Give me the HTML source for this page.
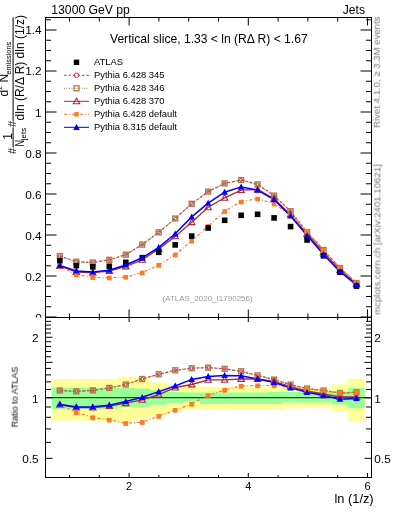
<!DOCTYPE html><html><head><meta charset="utf-8"><style>html,body{margin:0;padding:0;background:#fff;}svg{display:block;font-family:"Liberation Sans",sans-serif;} text{will-change:transform}</style></head><body>
<svg width="393" height="512" viewBox="0 0 393 512">
<rect width="393" height="512" fill="#fff"/>
<path d="M51.60,379.00 L68.08,379.00 L68.08,379.00 L84.56,379.00 L84.56,379.00 L101.04,379.00 L101.04,379.00 L117.52,379.00 L117.52,376.80 L134.00,376.80 L134.00,378.00 L150.48,378.00 L150.48,382.50 L166.96,382.50 L166.96,384.90 L183.44,384.90 L183.44,386.00 L199.92,386.00 L199.92,386.70 L216.40,386.70 L216.40,386.70 L232.88,386.70 L232.88,386.70 L249.36,386.70 L249.36,386.70 L265.84,386.70 L265.84,386.40 L282.32,386.40 L282.32,387.50 L298.80,387.50 L298.80,388.00 L315.28,388.00 L315.28,388.50 L331.76,388.50 L331.76,384.50 L348.24,384.50 L348.24,378.80 L364.72,378.80 L364.72,421.30 L348.24,421.30 L348.24,411.40 L331.76,411.40 L331.76,407.00 L315.28,407.00 L315.28,407.00 L298.80,407.00 L298.80,408.40 L282.32,408.40 L282.32,409.90 L265.84,409.90 L265.84,410.00 L249.36,410.00 L249.36,409.90 L232.88,409.90 L232.88,409.80 L216.40,409.80 L216.40,409.60 L199.92,409.60 L199.92,409.50 L183.44,409.50 L183.44,411.80 L166.96,411.80 L166.96,415.30 L150.48,415.30 L150.48,418.80 L134.00,418.80 L134.00,422.40 L117.52,422.40 L117.52,421.20 L101.04,421.20 L101.04,420.80 L84.56,420.80 L84.56,420.60 L68.08,420.60 L68.08,420.60 L51.60,420.60 Z" fill="#ffff99"/>
<path d="M51.60,387.80 L68.08,387.80 L68.08,387.80 L84.56,387.80 L84.56,387.80 L101.04,387.80 L101.04,387.80 L117.52,387.80 L117.52,388.00 L134.00,388.00 L134.00,388.40 L150.48,388.40 L150.48,390.30 L166.96,390.30 L166.96,392.00 L183.44,392.00 L183.44,392.60 L199.92,392.60 L199.92,392.40 L216.40,392.40 L216.40,392.40 L232.88,392.40 L232.88,392.40 L249.36,392.40 L249.36,392.40 L265.84,392.40 L265.84,392.00 L282.32,392.00 L282.32,392.00 L298.80,392.00 L298.80,392.00 L315.28,392.00 L315.28,392.00 L331.76,392.00 L331.76,391.50 L348.24,391.50 L348.24,387.90 L364.72,387.90 L364.72,408.30 L348.24,408.30 L348.24,404.50 L331.76,404.50 L331.76,402.40 L315.28,402.40 L315.28,402.40 L298.80,402.40 L298.80,402.40 L282.32,402.40 L282.32,403.90 L265.84,403.90 L265.84,403.70 L249.36,403.70 L249.36,403.70 L232.88,403.70 L232.88,403.70 L216.40,403.70 L216.40,403.70 L199.92,403.70 L199.92,401.30 L183.44,401.30 L183.44,402.90 L166.96,402.90 L166.96,404.80 L150.48,404.80 L150.48,406.70 L134.00,406.70 L134.00,407.00 L117.52,407.00 L117.52,408.80 L101.04,408.80 L101.04,408.90 L84.56,408.90 L84.56,408.90 L68.08,408.90 L68.08,408.90 L51.60,408.90 Z" fill="#99ff99"/>
<line x1="45.5" y1="397.6" x2="371.5" y2="397.6" stroke="#000" stroke-opacity="0.72" stroke-width="1.4"/>
<polyline points="59.84,256.10 76.32,261.70 92.80,262.50 109.28,259.80 125.76,254.70 142.24,244.60 158.72,232.30 175.20,218.50 191.68,203.80 208.16,191.60 224.64,183.40 241.12,180.00 257.60,184.40 274.08,195.60 290.56,211.20 307.04,232.20 323.52,250.00 340.00,268.20 356.48,283.00" fill="none" stroke="#c8365a" stroke-width="1.2" stroke-dasharray="2.5,2"/>
<polyline points="59.84,256.10 76.32,261.70 92.80,262.50 109.28,259.80 125.76,254.70 142.24,244.60 158.72,232.30 175.20,218.50 191.68,203.80 208.16,191.60 224.64,183.40 241.12,180.00 257.60,184.40 274.08,195.60 290.56,211.20 307.04,232.20 323.52,250.00 340.00,268.20 356.48,283.00" fill="none" stroke="#a87a40" stroke-width="1.2" stroke-dasharray="1,1.5"/>
<polyline points="59.84,266.00 76.32,272.00 92.80,272.70 109.28,271.00 125.76,266.50 142.24,259.80 158.72,248.90 175.20,236.40 191.68,222.20 208.16,207.30 224.64,197.80 241.12,190.10 257.60,189.50 274.08,198.70 290.56,214.60 307.04,234.00 323.52,252.50 340.00,270.00 356.48,284.00" fill="none" stroke="#a8283a" stroke-width="1.3"/>
<polyline points="59.84,266.00 76.32,274.60 92.80,277.30 109.28,277.70 125.76,277.00 142.24,272.70 158.72,265.00 175.20,254.70 191.68,240.90 208.16,226.20 224.64,211.20 241.12,201.70 257.60,198.70 274.08,203.80 290.56,215.20 307.04,231.80 323.52,250.20 340.00,268.00 356.48,282.60" fill="none" stroke="#ff7a28" stroke-width="1.2" stroke-dasharray="3,2,1,2"/>
<polyline points="59.84,265.40 76.32,271.00 92.80,272.00 109.28,270.20 125.76,265.00 142.24,257.80 158.72,247.40 175.20,233.80 191.68,216.90 208.16,203.20 224.64,192.20 241.12,186.90 257.60,190.10 274.08,199.70 290.56,216.00 307.04,235.60 323.52,254.40 340.00,271.70 356.48,285.00" fill="none" stroke="#0000ff" stroke-width="1.5"/>
<rect x="57.34" y="253.60" width="5.0" height="5.0" fill="none" stroke="#a87a40" stroke-width="1.3"/>
<circle cx="59.84" cy="256.10" r="1.5" fill="none" stroke="#c8365a" stroke-width="1.0"/>
<rect x="73.82" y="259.20" width="5.0" height="5.0" fill="none" stroke="#a87a40" stroke-width="1.3"/>
<circle cx="76.32" cy="261.70" r="1.5" fill="none" stroke="#c8365a" stroke-width="1.0"/>
<rect x="90.30" y="260.00" width="5.0" height="5.0" fill="none" stroke="#a87a40" stroke-width="1.3"/>
<circle cx="92.80" cy="262.50" r="1.5" fill="none" stroke="#c8365a" stroke-width="1.0"/>
<rect x="106.78" y="257.30" width="5.0" height="5.0" fill="none" stroke="#a87a40" stroke-width="1.3"/>
<circle cx="109.28" cy="259.80" r="1.5" fill="none" stroke="#c8365a" stroke-width="1.0"/>
<rect x="123.26" y="252.20" width="5.0" height="5.0" fill="none" stroke="#a87a40" stroke-width="1.3"/>
<circle cx="125.76" cy="254.70" r="1.5" fill="none" stroke="#c8365a" stroke-width="1.0"/>
<rect x="139.74" y="242.10" width="5.0" height="5.0" fill="none" stroke="#a87a40" stroke-width="1.3"/>
<circle cx="142.24" cy="244.60" r="1.5" fill="none" stroke="#c8365a" stroke-width="1.0"/>
<rect x="156.22" y="229.80" width="5.0" height="5.0" fill="none" stroke="#a87a40" stroke-width="1.3"/>
<circle cx="158.72" cy="232.30" r="1.5" fill="none" stroke="#c8365a" stroke-width="1.0"/>
<rect x="172.70" y="216.00" width="5.0" height="5.0" fill="none" stroke="#a87a40" stroke-width="1.3"/>
<circle cx="175.20" cy="218.50" r="1.5" fill="none" stroke="#c8365a" stroke-width="1.0"/>
<rect x="189.18" y="201.30" width="5.0" height="5.0" fill="none" stroke="#a87a40" stroke-width="1.3"/>
<circle cx="191.68" cy="203.80" r="1.5" fill="none" stroke="#c8365a" stroke-width="1.0"/>
<rect x="205.66" y="189.10" width="5.0" height="5.0" fill="none" stroke="#a87a40" stroke-width="1.3"/>
<circle cx="208.16" cy="191.60" r="1.5" fill="none" stroke="#c8365a" stroke-width="1.0"/>
<rect x="222.14" y="180.90" width="5.0" height="5.0" fill="none" stroke="#a87a40" stroke-width="1.3"/>
<circle cx="224.64" cy="183.40" r="1.5" fill="none" stroke="#c8365a" stroke-width="1.0"/>
<rect x="238.62" y="177.50" width="5.0" height="5.0" fill="none" stroke="#a87a40" stroke-width="1.3"/>
<circle cx="241.12" cy="180.00" r="1.5" fill="none" stroke="#c8365a" stroke-width="1.0"/>
<rect x="255.10" y="181.90" width="5.0" height="5.0" fill="none" stroke="#a87a40" stroke-width="1.3"/>
<circle cx="257.60" cy="184.40" r="1.5" fill="none" stroke="#c8365a" stroke-width="1.0"/>
<rect x="271.58" y="193.10" width="5.0" height="5.0" fill="none" stroke="#a87a40" stroke-width="1.3"/>
<circle cx="274.08" cy="195.60" r="1.5" fill="none" stroke="#c8365a" stroke-width="1.0"/>
<rect x="288.06" y="208.70" width="5.0" height="5.0" fill="none" stroke="#a87a40" stroke-width="1.3"/>
<circle cx="290.56" cy="211.20" r="1.5" fill="none" stroke="#c8365a" stroke-width="1.0"/>
<rect x="304.54" y="229.70" width="5.0" height="5.0" fill="none" stroke="#a87a40" stroke-width="1.3"/>
<circle cx="307.04" cy="232.20" r="1.5" fill="none" stroke="#c8365a" stroke-width="1.0"/>
<rect x="321.02" y="247.50" width="5.0" height="5.0" fill="none" stroke="#a87a40" stroke-width="1.3"/>
<circle cx="323.52" cy="250.00" r="1.5" fill="none" stroke="#c8365a" stroke-width="1.0"/>
<rect x="337.50" y="265.70" width="5.0" height="5.0" fill="none" stroke="#a87a40" stroke-width="1.3"/>
<circle cx="340.00" cy="268.20" r="1.5" fill="none" stroke="#c8365a" stroke-width="1.0"/>
<rect x="353.98" y="280.50" width="5.0" height="5.0" fill="none" stroke="#a87a40" stroke-width="1.3"/>
<circle cx="356.48" cy="283.00" r="1.5" fill="none" stroke="#c8365a" stroke-width="1.0"/>
<path d="M59.84,262.80 L63.04,268.40 L56.64,268.40 Z" fill="none" stroke="#a8283a" stroke-width="1.1"/>
<path d="M76.32,268.80 L79.52,274.40 L73.12,274.40 Z" fill="none" stroke="#a8283a" stroke-width="1.1"/>
<path d="M92.80,269.50 L96.00,275.10 L89.60,275.10 Z" fill="none" stroke="#a8283a" stroke-width="1.1"/>
<path d="M109.28,267.80 L112.48,273.40 L106.08,273.40 Z" fill="none" stroke="#a8283a" stroke-width="1.1"/>
<path d="M125.76,263.30 L128.96,268.90 L122.56,268.90 Z" fill="none" stroke="#a8283a" stroke-width="1.1"/>
<path d="M142.24,256.60 L145.44,262.20 L139.04,262.20 Z" fill="none" stroke="#a8283a" stroke-width="1.1"/>
<path d="M158.72,245.70 L161.92,251.30 L155.52,251.30 Z" fill="none" stroke="#a8283a" stroke-width="1.1"/>
<path d="M175.20,233.20 L178.40,238.80 L172.00,238.80 Z" fill="none" stroke="#a8283a" stroke-width="1.1"/>
<path d="M191.68,219.00 L194.88,224.60 L188.48,224.60 Z" fill="none" stroke="#a8283a" stroke-width="1.1"/>
<path d="M208.16,204.10 L211.36,209.70 L204.96,209.70 Z" fill="none" stroke="#a8283a" stroke-width="1.1"/>
<path d="M224.64,194.60 L227.84,200.20 L221.44,200.20 Z" fill="none" stroke="#a8283a" stroke-width="1.1"/>
<path d="M241.12,186.90 L244.32,192.50 L237.92,192.50 Z" fill="none" stroke="#a8283a" stroke-width="1.1"/>
<path d="M257.60,186.30 L260.80,191.90 L254.40,191.90 Z" fill="none" stroke="#a8283a" stroke-width="1.1"/>
<path d="M274.08,195.50 L277.28,201.10 L270.88,201.10 Z" fill="none" stroke="#a8283a" stroke-width="1.1"/>
<path d="M290.56,211.40 L293.76,217.00 L287.36,217.00 Z" fill="none" stroke="#a8283a" stroke-width="1.1"/>
<path d="M307.04,230.80 L310.24,236.40 L303.84,236.40 Z" fill="none" stroke="#a8283a" stroke-width="1.1"/>
<path d="M323.52,249.30 L326.72,254.90 L320.32,254.90 Z" fill="none" stroke="#a8283a" stroke-width="1.1"/>
<path d="M340.00,266.80 L343.20,272.40 L336.80,272.40 Z" fill="none" stroke="#a8283a" stroke-width="1.1"/>
<path d="M356.48,280.80 L359.68,286.40 L353.28,286.40 Z" fill="none" stroke="#a8283a" stroke-width="1.1"/>
<rect x="57.49" y="263.95" width="4.7" height="4.7" fill="#ff7a28"/>
<rect x="73.97" y="272.55" width="4.7" height="4.7" fill="#ff7a28"/>
<rect x="90.45" y="275.25" width="4.7" height="4.7" fill="#ff7a28"/>
<rect x="106.93" y="275.65" width="4.7" height="4.7" fill="#ff7a28"/>
<rect x="123.41" y="274.95" width="4.7" height="4.7" fill="#ff7a28"/>
<rect x="139.89" y="270.65" width="4.7" height="4.7" fill="#ff7a28"/>
<rect x="156.37" y="262.95" width="4.7" height="4.7" fill="#ff7a28"/>
<rect x="172.85" y="252.65" width="4.7" height="4.7" fill="#ff7a28"/>
<rect x="189.33" y="238.85" width="4.7" height="4.7" fill="#ff7a28"/>
<rect x="205.81" y="224.15" width="4.7" height="4.7" fill="#ff7a28"/>
<rect x="222.29" y="209.15" width="4.7" height="4.7" fill="#ff7a28"/>
<rect x="238.77" y="199.65" width="4.7" height="4.7" fill="#ff7a28"/>
<rect x="255.25" y="196.65" width="4.7" height="4.7" fill="#ff7a28"/>
<rect x="271.73" y="201.75" width="4.7" height="4.7" fill="#ff7a28"/>
<rect x="288.21" y="213.15" width="4.7" height="4.7" fill="#ff7a28"/>
<rect x="304.69" y="229.75" width="4.7" height="4.7" fill="#ff7a28"/>
<rect x="321.17" y="248.15" width="4.7" height="4.7" fill="#ff7a28"/>
<rect x="337.65" y="265.95" width="4.7" height="4.7" fill="#ff7a28"/>
<rect x="354.13" y="280.55" width="4.7" height="4.7" fill="#ff7a28"/>
<rect x="57.04" y="257.90" width="5.6" height="5.6" fill="#000"/>
<rect x="73.52" y="262.90" width="5.6" height="5.6" fill="#000"/>
<rect x="90.00" y="264.00" width="5.6" height="5.6" fill="#000"/>
<rect x="106.48" y="263.50" width="5.6" height="5.6" fill="#000"/>
<rect x="122.96" y="259.50" width="5.6" height="5.6" fill="#000"/>
<rect x="139.44" y="254.90" width="5.6" height="5.6" fill="#000"/>
<rect x="155.92" y="249.50" width="5.6" height="5.6" fill="#000"/>
<rect x="172.40" y="242.10" width="5.6" height="5.6" fill="#000"/>
<rect x="188.88" y="233.30" width="5.6" height="5.6" fill="#000"/>
<rect x="205.36" y="225.20" width="5.6" height="5.6" fill="#000"/>
<rect x="221.84" y="217.50" width="5.6" height="5.6" fill="#000"/>
<rect x="238.32" y="212.50" width="5.6" height="5.6" fill="#000"/>
<rect x="254.80" y="211.50" width="5.6" height="5.6" fill="#000"/>
<rect x="271.28" y="215.10" width="5.6" height="5.6" fill="#000"/>
<rect x="287.76" y="223.80" width="5.6" height="5.6" fill="#000"/>
<rect x="304.24" y="237.20" width="5.6" height="5.6" fill="#000"/>
<rect x="320.72" y="253.00" width="5.6" height="5.6" fill="#000"/>
<rect x="337.20" y="269.50" width="5.6" height="5.6" fill="#000"/>
<rect x="353.68" y="283.30" width="5.6" height="5.6" fill="#000"/>
<path d="M59.84,262.00 L63.14,268.00 L56.54,268.00 Z" fill="#0000ff"/>
<path d="M76.32,267.60 L79.62,273.60 L73.02,273.60 Z" fill="#0000ff"/>
<path d="M92.80,268.60 L96.10,274.60 L89.50,274.60 Z" fill="#0000ff"/>
<path d="M109.28,266.80 L112.58,272.80 L105.98,272.80 Z" fill="#0000ff"/>
<path d="M125.76,261.60 L129.06,267.60 L122.46,267.60 Z" fill="#0000ff"/>
<path d="M142.24,254.40 L145.54,260.40 L138.94,260.40 Z" fill="#0000ff"/>
<path d="M158.72,244.00 L162.02,250.00 L155.42,250.00 Z" fill="#0000ff"/>
<path d="M175.20,230.40 L178.50,236.40 L171.90,236.40 Z" fill="#0000ff"/>
<path d="M191.68,213.50 L194.98,219.50 L188.38,219.50 Z" fill="#0000ff"/>
<path d="M208.16,199.80 L211.46,205.80 L204.86,205.80 Z" fill="#0000ff"/>
<path d="M224.64,188.80 L227.94,194.80 L221.34,194.80 Z" fill="#0000ff"/>
<path d="M241.12,183.50 L244.42,189.50 L237.82,189.50 Z" fill="#0000ff"/>
<path d="M257.60,186.70 L260.90,192.70 L254.30,192.70 Z" fill="#0000ff"/>
<path d="M274.08,196.30 L277.38,202.30 L270.78,202.30 Z" fill="#0000ff"/>
<path d="M290.56,212.60 L293.86,218.60 L287.26,218.60 Z" fill="#0000ff"/>
<path d="M307.04,232.20 L310.34,238.20 L303.74,238.20 Z" fill="#0000ff"/>
<path d="M323.52,251.00 L326.82,257.00 L320.22,257.00 Z" fill="#0000ff"/>
<path d="M340.00,268.30 L343.30,274.30 L336.70,274.30 Z" fill="#0000ff"/>
<path d="M356.48,281.60 L359.78,287.60 L353.18,287.60 Z" fill="#0000ff"/>
<polyline points="59.84,390.50 76.32,391.40 92.80,390.40 109.28,387.90 125.76,384.50 142.24,379.00 158.72,374.30 175.20,370.30 191.68,368.20 208.16,367.60 224.64,368.80 241.12,371.30 257.60,375.40 274.08,379.60 290.56,384.60 307.04,388.60 323.52,390.50 340.00,393.00 356.48,392.30" fill="none" stroke="#c8365a" stroke-width="1.2" stroke-dasharray="2.5,2"/>
<polyline points="59.84,390.50 76.32,391.40 92.80,390.40 109.28,387.90 125.76,384.50 142.24,379.00 158.72,374.30 175.20,370.30 191.68,368.20 208.16,367.60 224.64,368.80 241.12,371.30 257.60,375.40 274.08,379.60 290.56,384.60 307.04,388.60 323.52,390.50 340.00,393.00 356.48,392.30" fill="none" stroke="#a87a40" stroke-width="1.2" stroke-dasharray="1,1.5"/>
<polyline points="59.84,404.80 76.32,407.60 92.80,407.60 109.28,406.00 125.76,403.20 142.24,399.80 158.72,394.70 175.20,387.60 191.68,384.50 208.16,379.80 224.64,379.80 241.12,379.00 257.60,379.00 274.08,381.50 290.56,386.50 307.04,391.00 323.52,394.00 340.00,397.00 356.48,397.00" fill="none" stroke="#a8283a" stroke-width="1.3"/>
<polyline points="59.84,405.00 76.32,412.30 92.80,417.50 109.28,419.90 125.76,423.20 142.24,422.20 158.72,416.10 175.20,410.00 191.68,403.90 208.16,395.30 224.64,390.00 241.12,386.00 257.60,385.50 274.08,385.50 290.56,387.40 307.04,389.20 323.52,390.50 340.00,393.00 356.48,392.30" fill="none" stroke="#ff7a28" stroke-width="1.2" stroke-dasharray="3,2,1,2"/>
<polyline points="59.84,404.20 76.32,407.00 92.80,406.80 109.28,405.20 125.76,401.60 142.24,397.30 158.72,391.60 175.20,386.00 191.68,379.40 208.16,376.40 224.64,375.40 241.12,375.80 257.60,379.00 274.08,382.60 290.56,387.90 307.04,392.30 323.52,395.60 340.00,399.20 356.48,398.40" fill="none" stroke="#0000ff" stroke-width="1.5"/>
<rect x="57.34" y="388.00" width="5.0" height="5.0" fill="none" stroke="#a87a40" stroke-width="1.3"/>
<circle cx="59.84" cy="390.50" r="1.5" fill="none" stroke="#c8365a" stroke-width="1.0"/>
<rect x="73.82" y="388.90" width="5.0" height="5.0" fill="none" stroke="#a87a40" stroke-width="1.3"/>
<circle cx="76.32" cy="391.40" r="1.5" fill="none" stroke="#c8365a" stroke-width="1.0"/>
<rect x="90.30" y="387.90" width="5.0" height="5.0" fill="none" stroke="#a87a40" stroke-width="1.3"/>
<circle cx="92.80" cy="390.40" r="1.5" fill="none" stroke="#c8365a" stroke-width="1.0"/>
<rect x="106.78" y="385.40" width="5.0" height="5.0" fill="none" stroke="#a87a40" stroke-width="1.3"/>
<circle cx="109.28" cy="387.90" r="1.5" fill="none" stroke="#c8365a" stroke-width="1.0"/>
<rect x="123.26" y="382.00" width="5.0" height="5.0" fill="none" stroke="#a87a40" stroke-width="1.3"/>
<circle cx="125.76" cy="384.50" r="1.5" fill="none" stroke="#c8365a" stroke-width="1.0"/>
<rect x="139.74" y="376.50" width="5.0" height="5.0" fill="none" stroke="#a87a40" stroke-width="1.3"/>
<circle cx="142.24" cy="379.00" r="1.5" fill="none" stroke="#c8365a" stroke-width="1.0"/>
<rect x="156.22" y="371.80" width="5.0" height="5.0" fill="none" stroke="#a87a40" stroke-width="1.3"/>
<circle cx="158.72" cy="374.30" r="1.5" fill="none" stroke="#c8365a" stroke-width="1.0"/>
<rect x="172.70" y="367.80" width="5.0" height="5.0" fill="none" stroke="#a87a40" stroke-width="1.3"/>
<circle cx="175.20" cy="370.30" r="1.5" fill="none" stroke="#c8365a" stroke-width="1.0"/>
<rect x="189.18" y="365.70" width="5.0" height="5.0" fill="none" stroke="#a87a40" stroke-width="1.3"/>
<circle cx="191.68" cy="368.20" r="1.5" fill="none" stroke="#c8365a" stroke-width="1.0"/>
<rect x="205.66" y="365.10" width="5.0" height="5.0" fill="none" stroke="#a87a40" stroke-width="1.3"/>
<circle cx="208.16" cy="367.60" r="1.5" fill="none" stroke="#c8365a" stroke-width="1.0"/>
<rect x="222.14" y="366.30" width="5.0" height="5.0" fill="none" stroke="#a87a40" stroke-width="1.3"/>
<circle cx="224.64" cy="368.80" r="1.5" fill="none" stroke="#c8365a" stroke-width="1.0"/>
<rect x="238.62" y="368.80" width="5.0" height="5.0" fill="none" stroke="#a87a40" stroke-width="1.3"/>
<circle cx="241.12" cy="371.30" r="1.5" fill="none" stroke="#c8365a" stroke-width="1.0"/>
<rect x="255.10" y="372.90" width="5.0" height="5.0" fill="none" stroke="#a87a40" stroke-width="1.3"/>
<circle cx="257.60" cy="375.40" r="1.5" fill="none" stroke="#c8365a" stroke-width="1.0"/>
<rect x="271.58" y="377.10" width="5.0" height="5.0" fill="none" stroke="#a87a40" stroke-width="1.3"/>
<circle cx="274.08" cy="379.60" r="1.5" fill="none" stroke="#c8365a" stroke-width="1.0"/>
<rect x="288.06" y="382.10" width="5.0" height="5.0" fill="none" stroke="#a87a40" stroke-width="1.3"/>
<circle cx="290.56" cy="384.60" r="1.5" fill="none" stroke="#c8365a" stroke-width="1.0"/>
<rect x="304.54" y="386.10" width="5.0" height="5.0" fill="none" stroke="#a87a40" stroke-width="1.3"/>
<circle cx="307.04" cy="388.60" r="1.5" fill="none" stroke="#c8365a" stroke-width="1.0"/>
<rect x="321.02" y="388.00" width="5.0" height="5.0" fill="none" stroke="#a87a40" stroke-width="1.3"/>
<circle cx="323.52" cy="390.50" r="1.5" fill="none" stroke="#c8365a" stroke-width="1.0"/>
<rect x="337.50" y="390.50" width="5.0" height="5.0" fill="none" stroke="#a87a40" stroke-width="1.3"/>
<circle cx="340.00" cy="393.00" r="1.5" fill="none" stroke="#c8365a" stroke-width="1.0"/>
<rect x="353.98" y="389.80" width="5.0" height="5.0" fill="none" stroke="#a87a40" stroke-width="1.3"/>
<circle cx="356.48" cy="392.30" r="1.5" fill="none" stroke="#c8365a" stroke-width="1.0"/>
<path d="M59.84,401.60 L63.04,407.20 L56.64,407.20 Z" fill="none" stroke="#a8283a" stroke-width="1.1"/>
<path d="M76.32,404.40 L79.52,410.00 L73.12,410.00 Z" fill="none" stroke="#a8283a" stroke-width="1.1"/>
<path d="M92.80,404.40 L96.00,410.00 L89.60,410.00 Z" fill="none" stroke="#a8283a" stroke-width="1.1"/>
<path d="M109.28,402.80 L112.48,408.40 L106.08,408.40 Z" fill="none" stroke="#a8283a" stroke-width="1.1"/>
<path d="M125.76,400.00 L128.96,405.60 L122.56,405.60 Z" fill="none" stroke="#a8283a" stroke-width="1.1"/>
<path d="M142.24,396.60 L145.44,402.20 L139.04,402.20 Z" fill="none" stroke="#a8283a" stroke-width="1.1"/>
<path d="M158.72,391.50 L161.92,397.10 L155.52,397.10 Z" fill="none" stroke="#a8283a" stroke-width="1.1"/>
<path d="M175.20,384.40 L178.40,390.00 L172.00,390.00 Z" fill="none" stroke="#a8283a" stroke-width="1.1"/>
<path d="M191.68,381.30 L194.88,386.90 L188.48,386.90 Z" fill="none" stroke="#a8283a" stroke-width="1.1"/>
<path d="M208.16,376.60 L211.36,382.20 L204.96,382.20 Z" fill="none" stroke="#a8283a" stroke-width="1.1"/>
<path d="M224.64,376.60 L227.84,382.20 L221.44,382.20 Z" fill="none" stroke="#a8283a" stroke-width="1.1"/>
<path d="M241.12,375.80 L244.32,381.40 L237.92,381.40 Z" fill="none" stroke="#a8283a" stroke-width="1.1"/>
<path d="M257.60,375.80 L260.80,381.40 L254.40,381.40 Z" fill="none" stroke="#a8283a" stroke-width="1.1"/>
<path d="M274.08,378.30 L277.28,383.90 L270.88,383.90 Z" fill="none" stroke="#a8283a" stroke-width="1.1"/>
<path d="M290.56,383.30 L293.76,388.90 L287.36,388.90 Z" fill="none" stroke="#a8283a" stroke-width="1.1"/>
<path d="M307.04,387.80 L310.24,393.40 L303.84,393.40 Z" fill="none" stroke="#a8283a" stroke-width="1.1"/>
<path d="M323.52,390.80 L326.72,396.40 L320.32,396.40 Z" fill="none" stroke="#a8283a" stroke-width="1.1"/>
<path d="M340.00,393.80 L343.20,399.40 L336.80,399.40 Z" fill="none" stroke="#a8283a" stroke-width="1.1"/>
<path d="M356.48,393.80 L359.68,399.40 L353.28,399.40 Z" fill="none" stroke="#a8283a" stroke-width="1.1"/>
<rect x="57.49" y="402.95" width="4.7" height="4.7" fill="#ff7a28"/>
<rect x="73.97" y="410.25" width="4.7" height="4.7" fill="#ff7a28"/>
<rect x="90.45" y="415.45" width="4.7" height="4.7" fill="#ff7a28"/>
<rect x="106.93" y="417.85" width="4.7" height="4.7" fill="#ff7a28"/>
<rect x="123.41" y="421.15" width="4.7" height="4.7" fill="#ff7a28"/>
<rect x="139.89" y="420.15" width="4.7" height="4.7" fill="#ff7a28"/>
<rect x="156.37" y="414.05" width="4.7" height="4.7" fill="#ff7a28"/>
<rect x="172.85" y="407.95" width="4.7" height="4.7" fill="#ff7a28"/>
<rect x="189.33" y="401.85" width="4.7" height="4.7" fill="#ff7a28"/>
<rect x="205.81" y="393.25" width="4.7" height="4.7" fill="#ff7a28"/>
<rect x="222.29" y="387.95" width="4.7" height="4.7" fill="#ff7a28"/>
<rect x="238.77" y="383.95" width="4.7" height="4.7" fill="#ff7a28"/>
<rect x="255.25" y="383.45" width="4.7" height="4.7" fill="#ff7a28"/>
<rect x="271.73" y="383.45" width="4.7" height="4.7" fill="#ff7a28"/>
<rect x="288.21" y="385.35" width="4.7" height="4.7" fill="#ff7a28"/>
<rect x="304.69" y="387.15" width="4.7" height="4.7" fill="#ff7a28"/>
<rect x="321.17" y="388.45" width="4.7" height="4.7" fill="#ff7a28"/>
<rect x="337.65" y="390.95" width="4.7" height="4.7" fill="#ff7a28"/>
<rect x="354.13" y="390.25" width="4.7" height="4.7" fill="#ff7a28"/>
<path d="M59.84,400.80 L63.14,406.80 L56.54,406.80 Z" fill="#0000ff"/>
<path d="M76.32,403.60 L79.62,409.60 L73.02,409.60 Z" fill="#0000ff"/>
<path d="M92.80,403.40 L96.10,409.40 L89.50,409.40 Z" fill="#0000ff"/>
<path d="M109.28,401.80 L112.58,407.80 L105.98,407.80 Z" fill="#0000ff"/>
<path d="M125.76,398.20 L129.06,404.20 L122.46,404.20 Z" fill="#0000ff"/>
<path d="M142.24,393.90 L145.54,399.90 L138.94,399.90 Z" fill="#0000ff"/>
<path d="M158.72,388.20 L162.02,394.20 L155.42,394.20 Z" fill="#0000ff"/>
<path d="M175.20,382.60 L178.50,388.60 L171.90,388.60 Z" fill="#0000ff"/>
<path d="M191.68,376.00 L194.98,382.00 L188.38,382.00 Z" fill="#0000ff"/>
<path d="M208.16,373.00 L211.46,379.00 L204.86,379.00 Z" fill="#0000ff"/>
<path d="M224.64,372.00 L227.94,378.00 L221.34,378.00 Z" fill="#0000ff"/>
<path d="M241.12,372.40 L244.42,378.40 L237.82,378.40 Z" fill="#0000ff"/>
<path d="M257.60,375.60 L260.90,381.60 L254.30,381.60 Z" fill="#0000ff"/>
<path d="M274.08,379.20 L277.38,385.20 L270.78,385.20 Z" fill="#0000ff"/>
<path d="M290.56,384.50 L293.86,390.50 L287.26,390.50 Z" fill="#0000ff"/>
<path d="M307.04,388.90 L310.34,394.90 L303.74,394.90 Z" fill="#0000ff"/>
<path d="M323.52,392.20 L326.82,398.20 L320.22,398.20 Z" fill="#0000ff"/>
<path d="M340.00,395.80 L343.30,401.80 L336.70,401.80 Z" fill="#0000ff"/>
<path d="M356.48,395.00 L359.78,401.00 L353.18,401.00 Z" fill="#0000ff"/>
<text x="162.5" y="301.3" font-size="8" fill="#9a9a9a">(ATLAS_2020_I1790256)</text>
<rect x="45.5" y="17.5" width="326.0" height="300.0" fill="none" stroke="#000" stroke-width="1"/>
<rect x="45.5" y="317.5" width="326.0" height="160.0" fill="none" stroke="#000" stroke-width="1"/>
<path d="M45.5,317.00h11M371.5,317.00h-11M45.5,306.75h5.5M371.5,306.75h-5.5M45.5,296.50h5.5M371.5,296.50h-5.5M45.5,286.25h5.5M371.5,286.25h-5.5M45.5,276.00h11M371.5,276.00h-11M45.5,265.75h5.5M371.5,265.75h-5.5M45.5,255.50h5.5M371.5,255.50h-5.5M45.5,245.25h5.5M371.5,245.25h-5.5M45.5,235.00h11M371.5,235.00h-11M45.5,224.75h5.5M371.5,224.75h-5.5M45.5,214.50h5.5M371.5,214.50h-5.5M45.5,204.25h5.5M371.5,204.25h-5.5M45.5,194.00h11M371.5,194.00h-11M45.5,183.75h5.5M371.5,183.75h-5.5M45.5,173.50h5.5M371.5,173.50h-5.5M45.5,163.25h5.5M371.5,163.25h-5.5M45.5,153.00h11M371.5,153.00h-11M45.5,142.75h5.5M371.5,142.75h-5.5M45.5,132.50h5.5M371.5,132.50h-5.5M45.5,122.25h5.5M371.5,122.25h-5.5M45.5,112.00h11M371.5,112.00h-11M45.5,101.75h5.5M371.5,101.75h-5.5M45.5,91.50h5.5M371.5,91.50h-5.5M45.5,81.25h5.5M371.5,81.25h-5.5M45.5,71.00h11M371.5,71.00h-11M45.5,60.75h5.5M371.5,60.75h-5.5M45.5,50.50h5.5M371.5,50.50h-5.5M45.5,40.25h5.5M371.5,40.25h-5.5M45.5,30.00h11M371.5,30.00h-11M45.5,19.75h5.5M371.5,19.75h-5.5M69.50,17.5v4M69.50,317.5v-4M69.50,317.5v2.5M69.50,477.5v-2.5M99.30,17.5v4M99.30,317.5v-4M99.30,317.5v2.5M99.30,477.5v-2.5M129.10,17.5v8M129.10,317.5v-8M129.10,317.5v4.5M129.10,477.5v-4.5M158.90,17.5v4M158.90,317.5v-4M158.90,317.5v2.5M158.90,477.5v-2.5M188.70,17.5v4M188.70,317.5v-4M188.70,317.5v2.5M188.70,477.5v-2.5M218.50,17.5v4M218.50,317.5v-4M218.50,317.5v2.5M218.50,477.5v-2.5M248.30,17.5v8M248.30,317.5v-8M248.30,317.5v4.5M248.30,477.5v-4.5M278.10,17.5v4M278.10,317.5v-4M278.10,317.5v2.5M278.10,477.5v-2.5M307.90,17.5v4M307.90,317.5v-4M307.90,317.5v2.5M307.90,477.5v-2.5M337.70,17.5v4M337.70,317.5v-4M337.70,317.5v2.5M337.70,477.5v-2.5M367.50,17.5v8M367.50,317.5v-8M367.50,317.5v4.5M367.50,477.5v-4.5M45.5,458.32h7M371.5,458.32h-7M45.5,442.40h5.5M371.5,442.40h-5.5M45.5,428.94h5.5M371.5,428.94h-5.5M45.5,417.28h5.5M371.5,417.28h-5.5M45.5,407.00h5.5M371.5,407.00h-5.5M45.5,397.80h7M371.5,397.80h-7M45.5,389.48h5.5M371.5,389.48h-5.5M45.5,381.88h5.5M371.5,381.88h-5.5M45.5,374.89h5.5M371.5,374.89h-5.5M45.5,368.42h5.5M371.5,368.42h-5.5M45.5,362.40h7M371.5,362.40h-7M45.5,356.76h5.5M371.5,356.76h-5.5M45.5,351.47h5.5M371.5,351.47h-5.5M45.5,346.48h5.5M371.5,346.48h-5.5M45.5,341.76h5.5M371.5,341.76h-5.5M45.5,337.28h7M371.5,337.28h-7M45.5,333.02h5.5M371.5,333.02h-5.5M45.5,328.96h5.5M371.5,328.96h-5.5M45.5,325.08h5.5M371.5,325.08h-5.5M45.5,321.36h5.5M371.5,321.36h-5.5" stroke="#000" stroke-width="1" fill="none"/>
<text x="41.6" y="280.90" font-size="11.8" text-anchor="end">0.2</text>
<text x="41.6" y="239.90" font-size="11.8" text-anchor="end">0.4</text>
<text x="41.6" y="198.90" font-size="11.8" text-anchor="end">0.6</text>
<text x="41.6" y="157.90" font-size="11.8" text-anchor="end">0.8</text>
<text x="41.6" y="116.90" font-size="11.8" text-anchor="end">1</text>
<text x="41.6" y="74.90" font-size="11.8" text-anchor="end">1.2</text>
<text x="41.6" y="33.90" font-size="11.8" text-anchor="end">1.4</text>
<clipPath id="c0"><rect x="0" y="0" width="45" height="317.6"/></clipPath>
<text x="41.8" y="321.90" font-size="11.8" text-anchor="end" clip-path="url(#c0)">0</text>
<text x="38.6" y="342.08" font-size="11.8" text-anchor="end">2</text>
<text x="374.3" y="342.08" font-size="11.8">2</text>
<text x="38.6" y="402.60" font-size="11.8" text-anchor="end">1</text>
<text x="374.3" y="402.60" font-size="11.8">1</text>
<text x="38.6" y="463.12" font-size="11.8" text-anchor="end">0.5</text>
<text x="374.3" y="463.12" font-size="11.8">0.5</text>
<text x="129.10" y="489.6" font-size="11" text-anchor="middle">2</text>
<text x="248.30" y="489.6" font-size="11" text-anchor="middle">4</text>
<text x="367.50" y="489.6" font-size="11" text-anchor="middle">6</text>
<text x="373.6" y="503.4" font-size="12.8" text-anchor="end">ln (1/z)</text>
<text x="51.3" y="14.3" font-size="12.2">13000 GeV pp</text>
<text x="365" y="14.4" font-size="12.1" text-anchor="end">Jets</text>
<text x="110" y="42.8" font-size="12.1">Vertical slice, 1.33 &lt; ln (RΔ R) &lt; 1.67</text>
<text x="94" y="64.80" font-size="9.4">ATLAS</text>
<rect x="73.80" y="59.60" width="5.4" height="5.4" fill="#000"/>
<text x="94" y="77.80" font-size="9.4">Pythia 6.428 345</text>
<line x1="64" y1="75.3" x2="89" y2="75.3" stroke="#c8365a" stroke-dasharray="2.5,2"/>
<circle cx="76.50" cy="75.30" r="2.3" fill="none" stroke="#c8365a" stroke-width="1.0"/>
<text x="94" y="90.80" font-size="9.4">Pythia 6.428 346</text>
<line x1="64" y1="88.3" x2="89" y2="88.3" stroke="#a87a40" stroke-dasharray="1,1.5"/>
<rect x="74.00" y="85.80" width="5.0" height="5.0" fill="none" stroke="#a87a40" stroke-width="1.3"/>
<text x="94" y="103.80" font-size="9.4">Pythia 6.428 370</text>
<line x1="64" y1="101.3" x2="89" y2="101.3" stroke="#a8283a"/>
<path d="M76.50,98.10 L79.70,103.70 L73.30,103.70 Z" fill="none" stroke="#a8283a" stroke-width="1.1"/>
<text x="94" y="116.80" font-size="9.4">Pythia 6.428 default</text>
<line x1="64" y1="114.3" x2="89" y2="114.3" stroke="#ff7a28" stroke-dasharray="3,2,1,2"/>
<rect x="74.30" y="112.10" width="4.4" height="4.4" fill="#ff7a28"/>
<text x="94" y="129.80" font-size="9.4">Pythia 8.315 default</text>
<line x1="64" y1="127.3" x2="89" y2="127.3" stroke="#0000ff"/>
<path d="M76.50,123.90 L79.80,129.90 L73.20,129.90 Z" fill="#0000ff"/>
<text transform="translate(379.8,127.8) rotate(-90)" font-size="9.6" fill="#767676">Rivet 4.1.0, ≥ 3.3M events</text>
<text transform="translate(380.4,314.7) rotate(-90)" font-size="9.6" fill="#767676">mcplots.cern.ch [arXiv:2401.10621]</text>
<text transform="translate(17.7,427.4) rotate(-90)" font-size="9" fill="#000">Ratio to ATLAS</text>
<g transform="translate(0,154) rotate(-90)">
<text x="0" y="16.2" font-size="11">#</text>
<rect x="6.5" y="12.6" width="20.2" height="1" fill="#000"/>
<text x="14.2" y="11.6" font-size="12">1</text>
<text x="7.4" y="23.6" font-size="12" textLength="6.6" lengthAdjust="spacingAndGlyphs">N</text>
<text x="13.8" y="26.4" font-size="8">jets</text>
<text x="27" y="16.2" font-size="11">#</text>
<rect x="33" y="12.6" width="103.6" height="1" fill="#000"/>
<text x="33.6" y="24.2" font-size="12">dln (R/Δ R) dln (1/z)</text>
<text x="57.4" y="8.0" font-size="12">d</text>
<text x="64.2" y="2.4" font-size="7">2</text>
<text x="71.4" y="8.0" font-size="12">N</text>
<text x="79.4" y="10.6" font-size="7.4">emissions</text>
</g>
</svg></body></html>
